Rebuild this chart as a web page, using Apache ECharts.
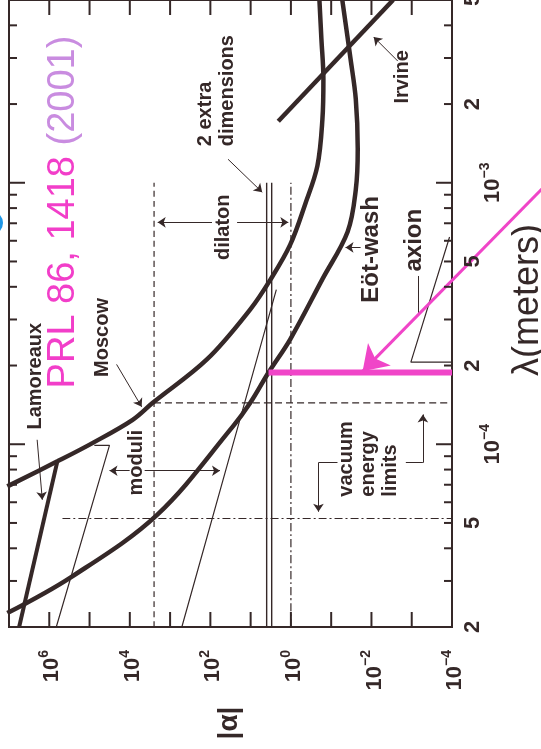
<!DOCTYPE html>
<html>
<head>
<meta charset="utf-8">
<script src="https://cdn.jsdelivr.net/npm/echarts@6/dist/echarts.min.js"></script>
<style>
html, body { margin: 0; padding: 0; background: #fff; }
#main { width: 541px; height: 749px; }
</style>
</head>
<body>
<div id="main"></div>
<script>
var myChart = echarts.init(document.getElementById('main'));

var ink = '#352828';
var pink = '#f045c8';
var font = "'Liberation Sans', Arial, sans-serif";

// axis ranges, |alpha| (horizontal, reversed) and lambda in metres (vertical)
var alphaMin = 1e-4, alphaMax = 1e7;
var lamMin = 2e-5, lamMax = 5e-3;

// ticks and tick labels
var alphaTicks = [1e-4, 1e-3, 1e-2, 1e-1, 1, 1e1, 1e2, 1e3, 1e4, 1e5, 1e6, 1e7];
var alphaLabelValues = [1e6, 1e4, 1e2, 1, 1e-2, 1e-4];
var alphaLabelTexts = ['10^6', '10^4', '10^2', '10^0', '10^\u22122', '10^\u22124'];
var lamTicks = [2e-5, 3e-5, 4e-5, 5e-5, 6e-5, 7e-5, 8e-5, 9e-5,
                1e-4, 2e-4, 3e-4, 4e-4, 5e-4, 6e-4, 7e-4, 8e-4, 9e-4,
                1e-3, 2e-3, 3e-3, 4e-3, 5e-3];
var lamMajor = [1e-4, 1e-3];
var lamLabelValues = [2e-5, 5e-5, 1e-4, 2e-4, 5e-4, 1e-3, 2e-3, 5e-3];
var lamLabelTexts = ['2', '5', '10^\u22124', '2', '5', '10^\u22123', '2', '5'];

// limit curves, points are [|alpha|, lambda]
var moscow = [[1.1e7, 6.9e-5], [6.3e5, 8.6e-5], [8.5e4, 1.01e-4], [8.5e3, 1.24e-4], [2.7e3, 1.44e-4],
              [122, 2.11e-4], [10.2, 3.28e-4], [3.2, 4.27e-4], [1.04, 5.8e-4], [0.44, 8.3e-4],
              [0.22, 1.16e-3], [0.165, 1.75e-3], [0.156, 2.5e-3], [0.175, 3.55e-3], [0.196, 5.0e-3]];
var eotWash = [[1.1e7, 2.26e-5], [2.8e5, 3.11e-5], [2.1e3, 5.37e-5], [27.5, 1.17e-4], [10.2, 1.44e-4],
               [3.6, 1.88e-4], [1.04, 2.52e-4], [0.165, 4.28e-4], [0.039, 6.5e-4], [0.0245, 9.4e-4],
               [0.0219, 1.35e-3], [0.0245, 2.09e-3], [0.033, 2.97e-3], [0.053, 5.0e-3]];
var irvine = [[2.06, 1.72e-3], [2.9e-3, 5.0e-3]];
var lamoreaux = [[6.3e5, 8.6e-5], [5.6e6, 2e-5]];
var moduliLow = [[7.6e4, 9.9e-5], [3.2e4, 9.9e-5], [6.7e5, 2e-5]];
var moduliHigh = [[511, 2e-5], [4.35, 2.75e-4], [2.3, 3.9e-4]];
var axion = [[1.15e-4, 6.2e-4], [1.05e-3, 2.06e-4], [1e-4, 2.06e-4]];
var extraDims = [3, 4];            // |alpha| of the two solid lines
var extraDimsTop = 1e-3;
var dilatonEdges = [2.5e3, 1.0];   // dashed |alpha| bounds
var vacuumLam = [1.44e-4, 5.2e-5]; // dashed lambda bounds
var vacuumFrom = [2.5e3, 4.7e5];
var eotWashReach = [[3.6, 1.88e-4], [1e-4, 1.88e-4]];
var pinkArrow = [[5e-7, 9.7e-4], [0.0166, 1.9e-4]];

// label leaders [from, to]
var pointers = [
    [[36.4, 1.23e-3], [5.16, 9.2e-4]],
    [[91, 7.06e-4], [2030, 7.06e-4]],
    [[21.7, 7.06e-4], [1.16, 7.06e-4]],
    [[1.01e4, 7.92e-5], [3.19e4, 7.92e-5]],
    [[4.28e3, 7.92e-5], [57.7, 7.92e-5]],
    [[2.0e6, 1.04e-4], [1.49e6, 6.13e-5]],
    [[2.13e4, 2.02e-4], [5.08e3, 1.39e-4]],
    [[0.0186, 5.66e-4], [0.044, 5.66e-4]],
    [[2.22e-3, 2.92e-3], [8.8e-3, 3.61e-3]],
    [[0.207, 8.5e-5], [0.207, 5.52e-5]],
    [[5.28e-4, 8.5e-5], [5.28e-4, 1.3e-4]]
];
var leaderTails = [
    [[0.0697, 8.5e-5], [0.207, 8.5e-5]],
    [[1.4e-3, 8.5e-5], [5.28e-4, 8.5e-5]],
    [[7.05e-4, 4.4e-4], [7.05e-4, 3.15e-4]]
];

// annotation texts and their anchors
var noteTexts = ['Lamoreaux', 'Moscow', 'moduli', 'dilaton', '2 extra\ndimensions',
                 'E\u00f6t-wash', 'Irvine', 'axion', 'vacuum\nenergy\nlimits'];
var noteAt = [[2.23e6, 1.82e-4], [4.76e4, 2.56e-4], [6.76e3, 8.5e-5], [48.5, 6.76e-4], [72.4, 1.38e-3],
              [9.9e-3, 5.56e-4], [1.67e-3, 2.54e-3], [8.4e-4, 6.03e-4], [0.0117, 6.3e-5]];

function fontOf(size, bold) {
    return (bold ? 'bold ' : '') + size + 'px ' + font;
}
var rich = {
    b: { font: fontOf(22, true), fill: ink, lineHeight: 26, verticalAlign: 'bottom' },
    s: { font: fontOf(14, true), fill: ink, lineHeight: 13, verticalAlign: 'top' }
};
function pow(t) {
    var p = t.split('^');
    return p.length > 1 ? '{b|' + p[0] + '}{s|' + p[1] + '}' : '{b|' + t + '}';
}
function isIn(v, list) {
    for (var i = 0; i < list.length; i++) {
        if (Math.abs(Math.log10(v) - Math.log10(list[i])) < 1e-6) return true;
    }
    return false;
}

function line(data, width, dash, color, z) {
    return {
        type: 'line', data: data, symbol: 'none', showSymbol: false, smooth: 0.35,
        lineStyle: { color: color || ink, width: width, type: dash || 'solid' },
        silent: true, z: z || 3
    };
}

var series = [
    line(moscow, 4.5),
    line(eotWash, 4.5),
    line(irvine, 4.5),
    line(lamoreaux, 4),
    line(moduliLow, 1.2),
    line(moduliHigh, 1.2),
    line(axion, 1.2)
];
extraDims.forEach(function (a) {
    series.push(line([[a, lamMin], [a, extraDimsTop]], 1.4));
});
series.push(line([[dilatonEdges[0], lamMin], [dilatonEdges[0], extraDimsTop]], 1.2, [6, 4]));
series.push(line([[dilatonEdges[1], lamMin], [dilatonEdges[1], extraDimsTop]], 1.2, [8, 3, 2, 3]));
series.push(line([[vacuumFrom[0], vacuumLam[0]], [alphaMin, vacuumLam[0]]], 1.2, [7, 4]));
series.push(line([[vacuumFrom[1], vacuumLam[1]], [alphaMin, vacuumLam[1]]], 1.2, [8, 3, 2, 3]));
series.push(line(eotWashReach, 6, 'solid', pink, 6));

series.push({
    type: 'lines', coordinateSystem: 'cartesian2d', clip: false, silent: true, z: 4,
    symbol: ['none', 'arrow'], symbolSize: 8,
    lineStyle: { color: ink, width: 1, opacity: 1, curveness: 0 },
    data: pointers.map(function (p) { return { coords: p }; })
});
series.push({
    type: 'lines', coordinateSystem: 'cartesian2d', clip: false, silent: true, z: 4,
    symbol: 'none', lineStyle: { color: ink, width: 1, opacity: 1 },
    data: leaderTails.map(function (p) { return { coords: p }; })
});
series.push({
    type: 'lines', coordinateSystem: 'cartesian2d', clip: false, silent: true, z: 7,
    symbol: ['none', 'arrow'], symbolSize: 24,
    lineStyle: { color: pink, width: 3, opacity: 1 },
    data: [{ coords: pinkArrow }]
});

// tick marks on all four sides
series.push({
    type: 'custom', clip: false, silent: true, z: 8,
    data: alphaTicks.map(function (a) { return [a, lamMin]; }),
    renderItem: function (params, api) {
        var cs = params.coordSys;
        var x = api.coord([api.value(0), lamMin])[0];
        var b = cs.y + cs.height;
        return { type: 'group', children: [
            { type: 'line', shape: { x1: x, y1: b, x2: x, y2: b - 15 }, style: { stroke: ink, lineWidth: 2 } },
            { type: 'line', shape: { x1: x, y1: cs.y, x2: x, y2: cs.y + 15 }, style: { stroke: ink, lineWidth: 2 } }
        ] };
    }
});
series.push({
    type: 'custom', clip: false, silent: true, z: 8,
    data: lamTicks.map(function (l) { return [1, l]; }),
    renderItem: function (params, api) {
        var cs = params.coordSys;
        var lam = api.value(1);
        var y = api.coord([1, lam])[1];
        var len = isIn(lam, lamMajor) ? 16 : 8;
        var r = cs.x + cs.width;
        return { type: 'group', children: [
            { type: 'line', shape: { x1: cs.x, y1: y, x2: cs.x + len, y2: y }, style: { stroke: ink, lineWidth: 2 } },
            { type: 'line', shape: { x1: r - len, y1: y, x2: r, y2: y }, style: { stroke: ink, lineWidth: 2 } }
        ] };
    }
});
// tick labels
series.push({
    type: 'custom', clip: false, silent: true, z: 8,
    data: alphaLabelValues.map(function (a) { return [a, lamMin]; }),
    renderItem: function (params, api) {
        var cs = params.coordSys;
        var x = api.coord([api.value(0), lamMin])[0];
        return {
            type: 'text', x: x + 1, y: cs.y + cs.height + 23, rotation: Math.PI / 2,
            style: { text: pow(alphaLabelTexts[params.dataIndex]), font: fontOf(22, true), rich: rich, align: 'right', verticalAlign: 'middle' }
        };
    }
});
series.push({
    type: 'custom', clip: false, silent: true, z: 8,
    data: lamLabelValues.map(function (l) { return [1, l]; }),
    renderItem: function (params, api) {
        var cs = params.coordSys;
        var y = api.coord([1, api.value(1)])[1];
        var t = lamLabelTexts[params.dataIndex];
        var off = t.indexOf('^') > 0 ? 39 : 19;
        return {
            type: 'text', x: cs.x + cs.width + off, y: y, rotation: Math.PI / 2,
            style: { text: pow(t), font: fontOf(22, true), rich: rich, align: 'center', verticalAlign: 'middle' }
        };
    }
});
// annotations
series.push({
    type: 'custom', clip: false, silent: true, z: 9,
    data: noteAt,
    renderItem: function (params, api) {
        var p = api.coord([api.value(0), api.value(1)]);
        var t = noteTexts[params.dataIndex];
        var multi = t.indexOf('\n') >= 0;
        var big = t === 'E\u00f6t-wash' || t === 'axion';
        return {
            type: 'text', x: p[0], y: p[1], rotation: Math.PI / 2,
            style: {
                text: t, font: fontOf(big ? 24 : 20, true),
                lineHeight: 22, fill: ink, align: multi ? 'left' : 'center', verticalAlign: 'middle'
            }
        };
    }
});

option = {
    backgroundColor: '#ffffff',
    animation: false,
    grid: {
        left: 9, right: 89, top: 0, bottom: 122,
        show: true, borderColor: ink, borderWidth: 2, backgroundColor: 'transparent',
        outerBoundsMode: 'none'
    },
    xAxis: {
        type: 'log', inverse: true, min: alphaMin, max: alphaMax,
        axisLine: { show: false }, axisTick: { show: false }, axisLabel: { show: false }, splitLine: { show: false }
    },
    yAxis: {
        type: 'log', position: 'right', min: lamMin, max: lamMax,
        axisLine: { show: false }, axisTick: { show: false }, axisLabel: { show: false }, splitLine: { show: false }
    },
    graphic: [
        {
            type: 'text', x: 64, y: 212, rotation: Math.PI / 2, silent: true,
            style: {
                text: '{a|PRL 86, 1418}{b| (2001)}', align: 'center', verticalAlign: 'middle',
                rich: {
                    a: { fontFamily: font, fontSize: 38, fill: '#f23ec9' },
                    b: { fontFamily: font, fontSize: 38, fill: '#c98ce0' }
                }
            }
        },
        {
            type: 'text', x: 229, y: 723, rotation: Math.PI / 2, silent: true,
            style: { text: '|\u03b1|', fontFamily: font, fontWeight: 'bold', fontSize: 28, fill: ink, align: 'center', verticalAlign: 'middle' }
        },
        {
            type: 'text', x: 528, y: 300, rotation: Math.PI / 2, silent: true,
            style: { text: '\u03bb(meters)', fontFamily: font, fontSize: 36, fill: ink, align: 'center', verticalAlign: 'middle' }
        },
        {
            type: 'circle', shape: { cx: -9, cy: 223, r: 12 }, silent: true,
            style: { fill: '#1e96e6' }
        }
    ],
    series: series
};
myChart.setOption(option);
</script>
</body>
</html>
